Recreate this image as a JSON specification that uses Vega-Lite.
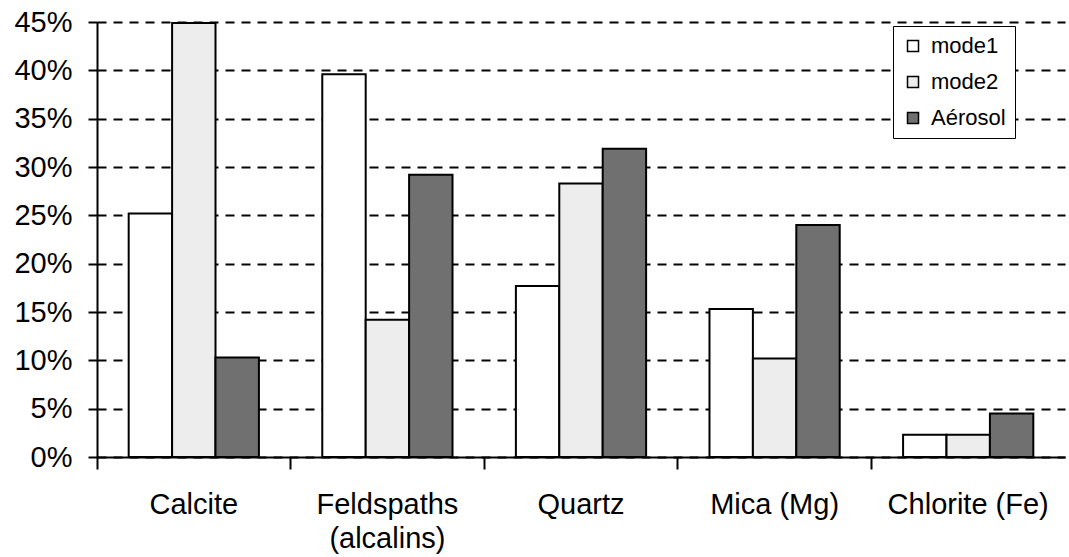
{
  "$schema": "https://vega.github.io/schema/vega-lite/v6.json",
  "autosize": "none",
  "width": 968,
  "height": 435,
  "padding": {"left": 97, "top": 22, "right": 4, "bottom": 100},
  "background": "white",
  "config": {
    "view": {"stroke": null},
    "font": "Liberation Sans"
  },
  "data": {
    "values": [
      {"mineral": "Calcite", "serie": "mode1", "value": 0.252},
      {"mineral": "Calcite", "serie": "mode2", "value": 0.449},
      {"mineral": "Calcite", "serie": "Aérosol", "value": 0.103},
      {"mineral": "Feldspaths (alcalins)", "serie": "mode1", "value": 0.396},
      {"mineral": "Feldspaths (alcalins)", "serie": "mode2", "value": 0.142},
      {"mineral": "Feldspaths (alcalins)", "serie": "Aérosol", "value": 0.292},
      {"mineral": "Quartz", "serie": "mode1", "value": 0.177},
      {"mineral": "Quartz", "serie": "mode2", "value": 0.283},
      {"mineral": "Quartz", "serie": "Aérosol", "value": 0.319},
      {"mineral": "Mica (Mg)", "serie": "mode1", "value": 0.153},
      {"mineral": "Mica (Mg)", "serie": "mode2", "value": 0.102},
      {"mineral": "Mica (Mg)", "serie": "Aérosol", "value": 0.240},
      {"mineral": "Chlorite (Fe)", "serie": "mode1", "value": 0.023},
      {"mineral": "Chlorite (Fe)", "serie": "mode2", "value": 0.023},
      {"mineral": "Chlorite (Fe)", "serie": "Aérosol", "value": 0.045}
    ]
  },
  "mark": {"type": "bar", "stroke": "black", "strokeWidth": 2},
  "encoding": {
    "x": {
      "field": "mineral",
      "type": "nominal",
      "sort": null,
      "scale": {"paddingInner": 0, "paddingOuter": 0},
      "axis": {
        "title": null,
        "labelAngle": 0,
        "labelFontSize": 29,
        "labelColor": "black",
        "labelPadding": 21,
        "labelBaseline": "top",
        "labelLineHeight": 34,
        "labelExpr": "datum.label == 'Feldspaths (alcalins)' ? ['Feldspaths', '(alcalins)'] : datum.label",
        "bandPosition": 0,
        "tickColor": "black",
        "tickWidth": 2,
        "tickSize": 12,
        "domainColor": "black",
        "domainWidth": 2,
        "grid": false
      }
    },
    "xOffset": {
      "field": "serie",
      "type": "nominal",
      "sort": ["mode1", "mode2", "Aérosol"],
      "scale": {"paddingInner": 0, "paddingOuter": 0.73}
    },
    "y": {
      "field": "value",
      "type": "quantitative",
      "scale": {"domain": [0, 0.45], "nice": false},
      "axis": {
        "title": null,
        "format": ".0%",
        "values": [0, 0.05, 0.1, 0.15, 0.2, 0.25, 0.3, 0.35, 0.4, 0.45],
        "labelFontSize": 29,
        "labelColor": "black",
        "labelPadding": 16,
        "tickColor": "black",
        "tickWidth": 2,
        "tickSize": 9,
        "domainColor": "black",
        "domainWidth": 2,
        "grid": true,
        "gridColor": "black",
        "gridWidth": 2,
        "gridDash": [9, 7]
      }
    },
    "fill": {
      "field": "serie",
      "type": "nominal",
      "sort": ["mode1", "mode2", "Aérosol"],
      "scale": {"domain": ["mode1", "mode2", "Aérosol"], "range": ["#ffffff", "#ededed", "#707070"]},
      "legend": {
        "title": null,
        "orient": "none",
        "legendX": 796,
        "legendY": 4,
        "direction": "vertical",
        "fillColor": "white",
        "strokeColor": "black",
        "padding": 9,
        "rowPadding": 14,
        "symbolType": "square",
        "symbolSize": 121,
        "symbolStrokeColor": "black",
        "symbolStrokeWidth": 1.5,
        "labelFontSize": 22,
        "labelColor": "black",
        "labelOffset": 7,
        "labelLimit": 200
      }
    }
  }
}
